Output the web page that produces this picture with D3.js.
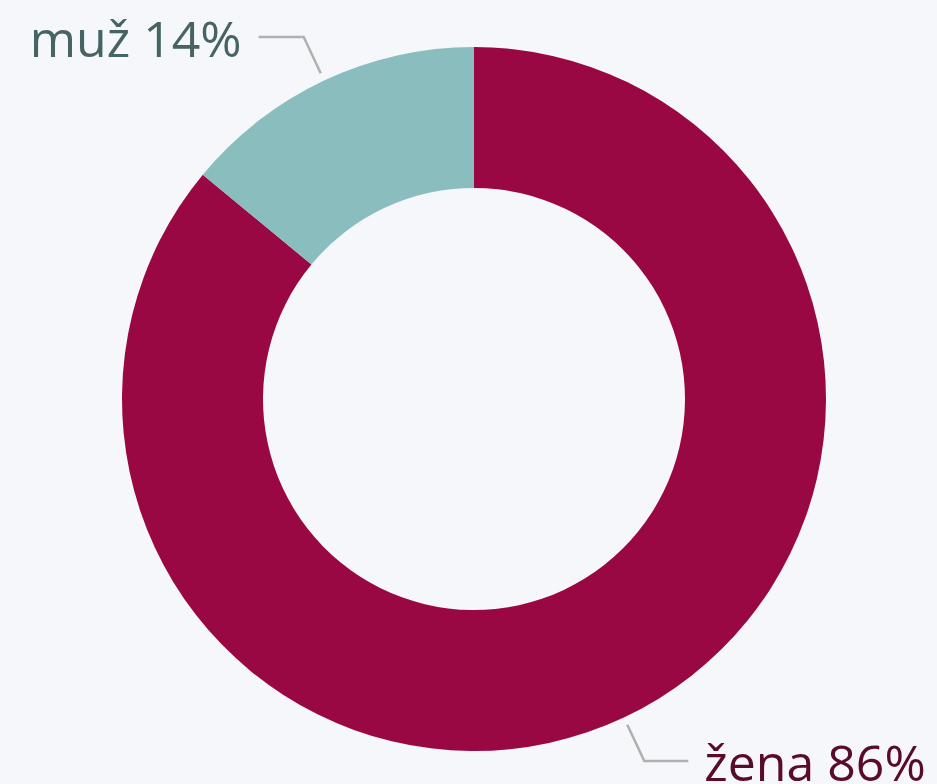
<!DOCTYPE html>
<html>
<head>
<meta charset="utf-8">
<script src="https://cdn.jsdelivr.net/npm/d3@7"></script>
<style>
  html, body { margin: 0; padding: 0; background: #f5f7fb; }
  svg { display: block; }
</style>
</head>
<body>
<div id="chart"></div>
<script>
const categories = ["žena", "muž"];
const values = [86, 14];
const sliceColors = ["#9a0843", "#8abdbd"];
const labelColors = ["#5a0a2c", "#466464"];

const width = 937, height = 784;
const cx = 474, cy = 399;
const outerR = 352, innerR = 211;

const svg = d3.select("#chart")
  .append("svg")
    .attr("width", width)
    .attr("height", height)
  .append("g")
    .attr("transform", `translate(${cx},${cy})`);

const pie = d3.pie().sort(null).value(d => d.value);
const data = pie(categories.map((c, i) => ({name: c, value: values[i], i})));

const arc = d3.arc().innerRadius(innerR).outerRadius(outerR);

svg.selectAll("path.slice")
  .data(data)
  .enter()
  .append("path")
    .attr("class", "slice")
    .attr("d", arc)
    .attr("fill", d => sliceColors[d.data.i]);

// leader lines + labels
const startArc = d3.arc().innerRadius(outerR + 8).outerRadius(outerR + 8);
const elbowArc = d3.arc().innerRadius(outerR + 48).outerRadius(outerR + 48);

data.forEach(d => {
  const a = startArc.centroid(d);
  const b = elbowArc.centroid(d);
  const mid = (d.startAngle + d.endAngle) / 2;
  const right = Math.sin(mid) > 0;
  const c = [b[0] + (right ? 44 : -45), b[1]];
  svg.append("polyline")
    .attr("points", [a, b, c].map(p => p.join(",")).join(" "))
    .attr("fill", "none")
    .attr("stroke", "#b0b0b0")
    .attr("stroke-width", 2.5);
  svg.append("text")
    .attr("x", c[0] + (right ? 16 : -17))
    .attr("y", c[1] + 20)
    .attr("text-anchor", right ? "start" : "end")
    .style("font-family", "Open Sans")
    .style("font-size", "50px")
    .attr("fill", labelColors[d.data.i])
    .text(`${d.data.name} ${d.data.value}%`);
});
</script>
</body>
</html>
